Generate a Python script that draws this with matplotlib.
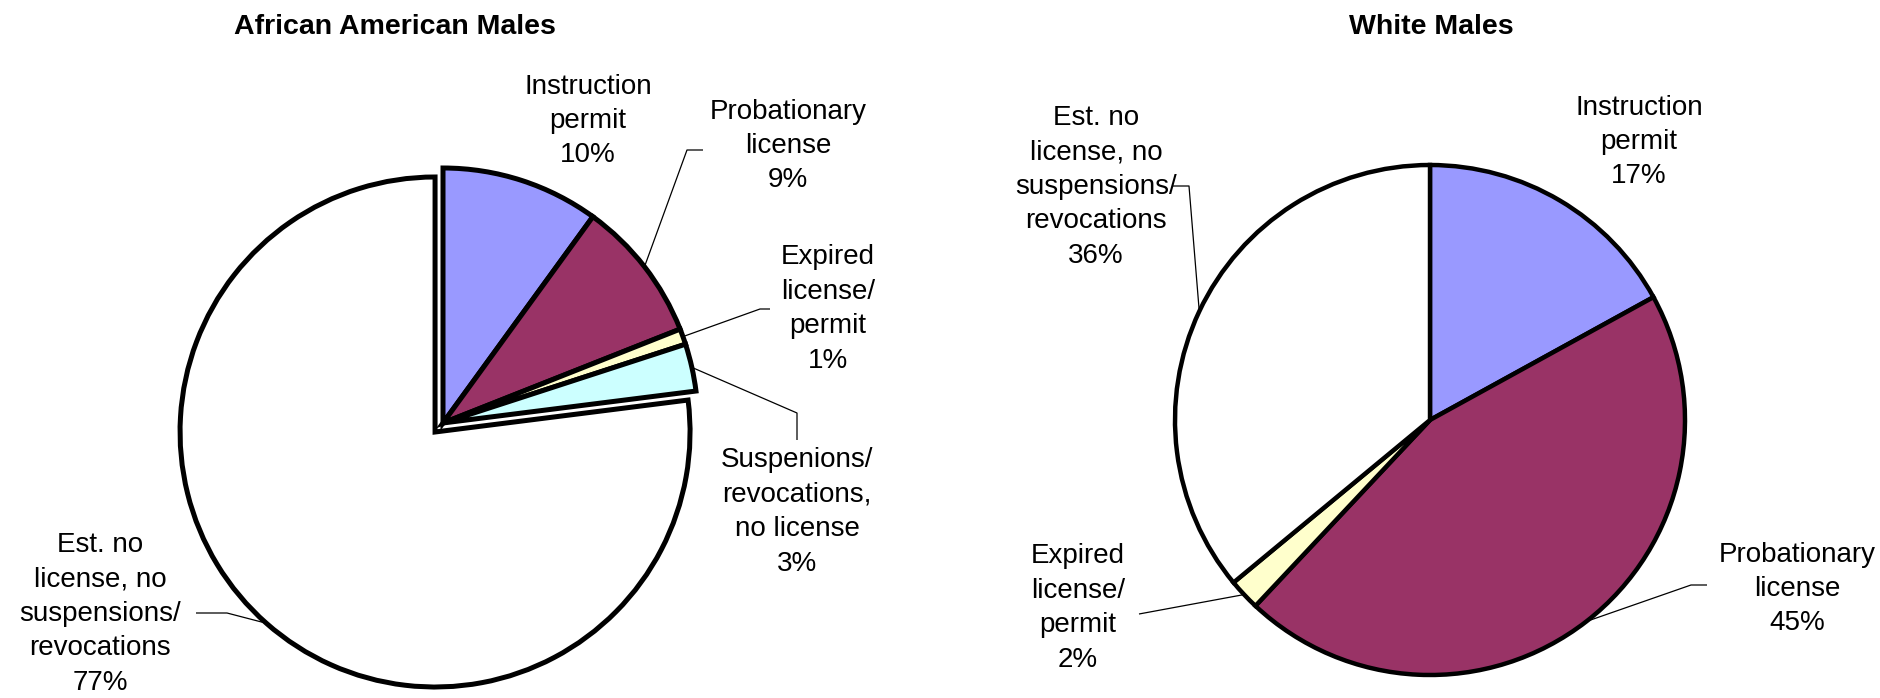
import matplotlib
matplotlib.use("Agg")
import matplotlib.pyplot as plt
import numpy as np

W, H = 1881, 698

# ---------------- data ----------------
aa_title = "African American Males"
aa_labels = ["Instruction\npermit", "Probationary\nlicense", "Expired\nlicense/\npermit",
             "Suspenions/\nrevocations,\nno license",
             "Est. no\nlicense, no\nsuspensions/\nrevocations"]
aa_values = [10, 9, 1, 3, 77]
aa_colors = ["#9999FF", "#993366", "#FFFFCC", "#CCFFFF", "#FFFFFF"]

wm_title = "White Males"
wm_labels = ["Instruction\npermit", "Probationary\nlicense", "Expired\nlicense/\npermit",
             "Est. no\nlicense, no\nsuspensions/\nrevocations"]
wm_values = [17, 45, 2, 36]
wm_colors = ["#9999FF", "#993366", "#FFFFCC", "#FFFFFF"]

# ---------------- layout (pixel coords, y down) ----------------
aa_center, aa_radius, aa_lw = (443, 423), 255, 3.6
wm_center, wm_radius, wm_lw = (1430, 420), 255, 3.2
aa_explode = [0, 0, 0, 0, 12]   # offset in pixels
wm_explode = [0, 0, 0, 0]

# label text centre and leader elbow points (from text side towards the pie)
aa_text_pos = [(588, 121), (788, 146), (828, 309), (797, 512), (100, 614)]
aa_leaders = [None, [(703, 150), (687, 150)], [(770, 309), (760, 309)],
              [(797, 440), (797, 413)], [(196, 613), (227, 613)]]
wm_text_pos = [(1639, 142), (1797, 589), (1078, 608), (1096, 187)]
wm_leaders = [None, [(1707, 585), (1691, 585)], [(1139, 614)],
              [(1173, 186), (1189, 186)]]

FONT = "Liberation Sans"
LABEL_SIZE = 20
TITLE_SIZE = 20.5
LINESPACING = 1.42

fig = plt.figure(figsize=(W / 100, H / 100), dpi=100)
ax = fig.add_axes([0, 0, 1, 1])


def Y(y):
    return H - y


def draw_pie(values, colors, labels, center, radius, lw, explode, text_pos, leaders):
    wedges, _ = ax.pie(values, colors=colors, startangle=90, counterclock=False,
                       center=(center[0], Y(center[1])), radius=radius, explode=explode,
                       wedgeprops=dict(edgecolor="black", linewidth=lw, joinstyle="miter"),
                       frame=True)
    for w, lab, val, tp, ld in zip(wedges, labels, values, text_pos, leaders):
        ax.text(tp[0], Y(tp[1]), f"{lab}\n{val}%", ha="center", va="center",
                fontsize=LABEL_SIZE, family=FONT, linespacing=LINESPACING, color="black")
        if ld is not None:
            mid = np.deg2rad((w.theta1 + w.theta2) / 2)
            cx, cy = w.center
            ax_pt = (cx + w.r * np.cos(mid), cy + w.r * np.sin(mid))
            xs = [p[0] for p in ld] + [ax_pt[0]]
            ys = [Y(p[1]) for p in ld] + [ax_pt[1]]
            ax.plot(xs, ys, color="black", lw=0.9, solid_capstyle="butt")


draw_pie(aa_values, aa_colors, aa_labels, aa_center, aa_radius, aa_lw, aa_explode,
         aa_text_pos, aa_leaders)
draw_pie(wm_values, wm_colors, wm_labels, wm_center, wm_radius, wm_lw, wm_explode,
         wm_text_pos, wm_leaders)

ax.text(395, Y(27), aa_title, ha="center", va="center", fontsize=TITLE_SIZE,
        fontweight="bold", family=FONT)
ax.text(1431, Y(27), wm_title, ha="center", va="center", fontsize=TITLE_SIZE,
        fontweight="bold", family=FONT)

ax.set_xlim(0, W)
ax.set_ylim(0, H)
ax.set_aspect("auto")
ax.axis("off")

fig.savefig("out.png", dpi=100, facecolor="white")
